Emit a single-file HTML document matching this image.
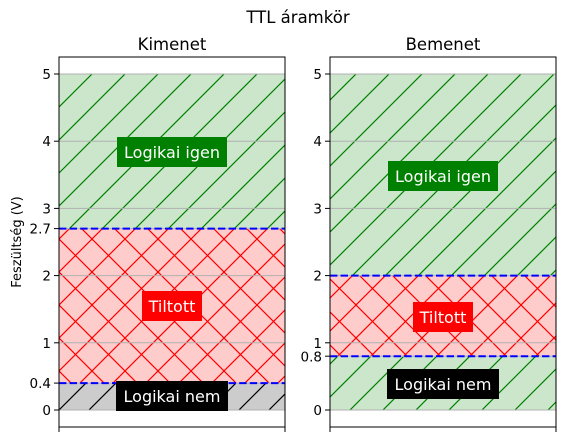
<!DOCTYPE html>
<html><head><style>body{margin:0;background:#fff}svg{display:block}</style></head><body>
<svg width="565" height="442" xmlns="http://www.w3.org/2000/svg" font-family="DejaVu Sans, sans-serif">
<defs>
<pattern id="pg" patternUnits="userSpaceOnUse" width="33" height="33" x="59" y="74">
<path d="M-1,34 L34,-1 M-9,9 L9,-9 M24,42 L42,24" stroke="green" stroke-width="1.2"/></pattern>
<pattern id="pk" patternUnits="userSpaceOnUse" width="30" height="30" x="59" y="410">
<path d="M-1,31 L31,-1 M-9,9 L9,-9 M22,38 L38,22" stroke="#000" stroke-width="1.2"/></pattern>
<pattern id="pr" patternUnits="userSpaceOnUse" width="33" height="33" x="59" y="74">
<path d="M-1,34 L34,-1 M-9,9 L9,-9 M24,42 L42,24 M-1,-1 L34,34 M-9,24 L9,42 M24,-9 L42,9" stroke="red" stroke-width="1.2"/></pattern>
</defs>
<text x="298" y="23" font-size="16.5" text-anchor="middle">TTL áramkör</text>
<text x="172" y="50" font-size="16.5" text-anchor="middle">Kimenet</text>
<text x="443" y="50" font-size="16.5" text-anchor="middle">Bemenet</text>

<!-- left axes -->
<g>
<rect x="59" y="74" width="226" height="154.6" fill="#cce6cc"/>
<rect x="59" y="74" width="226" height="154.6" fill="url(#pg)"/>
<rect x="59" y="228.6" width="226" height="154.5" fill="#ffcccc"/>
<rect x="59" y="228.6" width="226" height="154.5" fill="url(#pr)"/>
<rect x="59" y="383.1" width="226" height="26.9" fill="#cccccc"/>
<rect x="59" y="383.1" width="226" height="26.9" fill="url(#pk)"/>
<g stroke="#b0b0b0" stroke-width="1">
<line x1="59" x2="285" y1="410" y2="410"/><line x1="59" x2="285" y1="383.1" y2="383.1"/>
<line x1="59" x2="285" y1="342.8" y2="342.8"/><line x1="59" x2="285" y1="275.6" y2="275.6"/>
<line x1="59" x2="285" y1="228.6" y2="228.6"/><line x1="59" x2="285" y1="208.4" y2="208.4"/>
<line x1="59" x2="285" y1="141.2" y2="141.2"/><line x1="59" x2="285" y1="74" y2="74"/>
</g>
<g stroke="blue" stroke-width="2" stroke-dasharray="7.4,3.2">
<line x1="59" x2="285" y1="228.6" y2="228.6"/><line x1="59" x2="285" y1="383.1" y2="383.1"/>
</g>
<rect x="59" y="57" width="226" height="370" fill="none" stroke="#000" stroke-width="1"/>
<g stroke="#000"><line x1="54" x2="59" y1="410" y2="410"/><line x1="54" x2="59" y1="383.1" y2="383.1"/>
<line x1="54" x2="59" y1="342.8" y2="342.8"/><line x1="54" x2="59" y1="275.6" y2="275.6"/>
<line x1="54" x2="59" y1="228.6" y2="228.6"/><line x1="54" x2="59" y1="208.4" y2="208.4"/>
<line x1="54" x2="59" y1="141.2" y2="141.2"/><line x1="54" x2="59" y1="74" y2="74"/>
<line x1="59" x2="59" y1="427" y2="432"/><line x1="285" x2="285" y1="427" y2="432"/></g>
<g font-size="13.5" text-anchor="end">
<text x="51" y="415">0</text><text x="51" y="388">0.4</text><text x="51" y="348">1</text>
<text x="51" y="280.5">2</text><text x="51" y="233.5">2.7</text><text x="51" y="213.5">3</text>
<text x="51" y="146">4</text><text x="51" y="79">5</text></g>
<text font-size="13" text-anchor="middle" transform="translate(21,242) rotate(-90)">Feszültség (V)</text>
<rect x="117" y="137" width="110" height="30" fill="green"/>
<text x="172" y="158" font-size="16" fill="#fff" text-anchor="middle">Logikai igen</text>
<rect x="142" y="291" width="60" height="30" fill="red"/>
<text x="172" y="312" font-size="16" fill="#fff" text-anchor="middle">Tiltott</text>
<rect x="116" y="381" width="112" height="30" fill="#000"/>
<text x="172" y="402" font-size="16" fill="#fff" text-anchor="middle">Logikai nem</text>
</g>

<!-- right axes -->
<g>
<rect x="330" y="74" width="226" height="201.6" fill="#cce6cc"/>
<rect x="330" y="74" width="226" height="201.6" fill="url(#pg)"/>
<rect x="330" y="275.6" width="226" height="80.6" fill="#ffcccc"/>
<rect x="330" y="275.6" width="226" height="80.6" fill="url(#pr)"/>
<rect x="330" y="356.2" width="226" height="53.8" fill="#cce6cc"/>
<rect x="330" y="356.2" width="226" height="53.8" fill="url(#pg)"/>
<g stroke="#b0b0b0" stroke-width="1">
<line x1="330" x2="556" y1="410" y2="410"/><line x1="330" x2="556" y1="356.2" y2="356.2"/>
<line x1="330" x2="556" y1="342.8" y2="342.8"/><line x1="330" x2="556" y1="275.6" y2="275.6"/>
<line x1="330" x2="556" y1="208.4" y2="208.4"/>
<line x1="330" x2="556" y1="141.2" y2="141.2"/><line x1="330" x2="556" y1="74" y2="74"/>
</g>
<g stroke="blue" stroke-width="2" stroke-dasharray="7.4,3.2">
<line x1="330" x2="556" y1="275.6" y2="275.6"/><line x1="330" x2="556" y1="356.2" y2="356.2"/>
</g>
<rect x="330" y="57" width="226" height="370" fill="none" stroke="#000" stroke-width="1"/>
<g stroke="#000"><line x1="325" x2="330" y1="410" y2="410"/><line x1="325" x2="330" y1="356.2" y2="356.2"/>
<line x1="325" x2="330" y1="342.8" y2="342.8"/><line x1="325" x2="330" y1="275.6" y2="275.6"/>
<line x1="325" x2="330" y1="208.4" y2="208.4"/>
<line x1="325" x2="330" y1="141.2" y2="141.2"/><line x1="325" x2="330" y1="74" y2="74"/>
<line x1="330" x2="330" y1="427" y2="432"/><line x1="556" x2="556" y1="427" y2="432"/></g>
<g font-size="13.5" text-anchor="end">
<text x="322" y="415">0</text><text x="322" y="361.5">0.8</text><text x="322" y="348">1</text>
<text x="322" y="280.5">2</text><text x="322" y="213.5">3</text>
<text x="322" y="146">4</text><text x="322" y="79">5</text></g>
<rect x="388" y="161" width="110" height="30" fill="green"/>
<text x="443" y="182" font-size="16" fill="#fff" text-anchor="middle">Logikai igen</text>
<rect x="413" y="302" width="60" height="30" fill="red"/>
<text x="443" y="323" font-size="16" fill="#fff" text-anchor="middle">Tiltott</text>
<rect x="387" y="369" width="112" height="30" fill="#000"/>
<text x="443" y="390" font-size="16" fill="#fff" text-anchor="middle">Logikai nem</text>
</g>
</svg>
</body></html>
